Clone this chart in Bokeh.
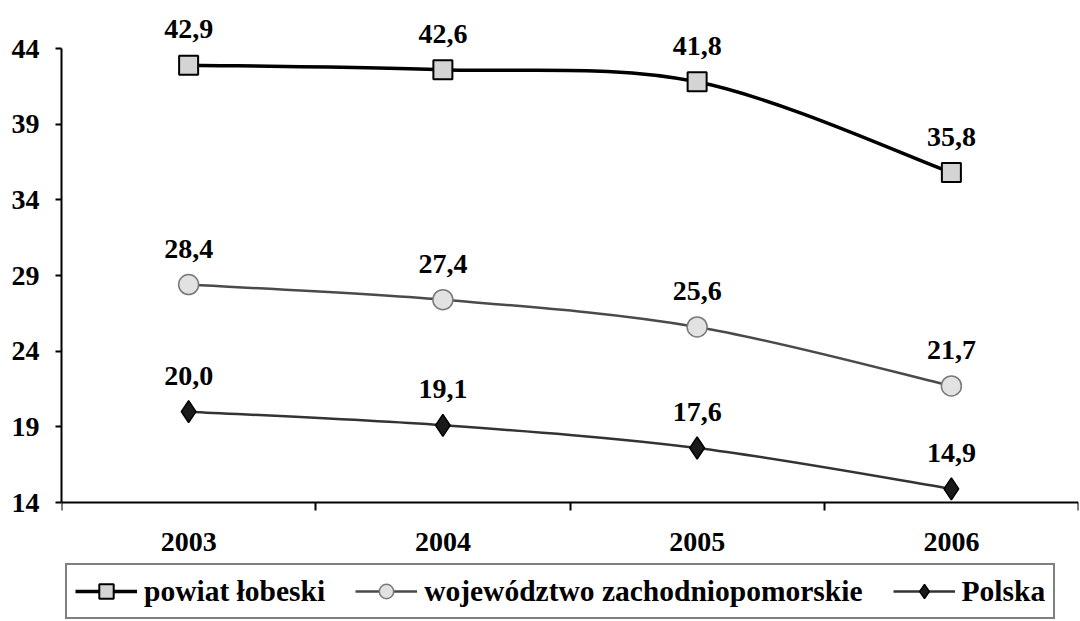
from bokeh.plotting import figure
from bokeh.models import (Range1d, FixedTicker, Legend, LegendItem, LabelSet,
                          ColumnDataSource)
from bokeh.embed import file_html
from bokeh.resources import INLINE

# ---- data ----
years = ["2003", "2004", "2005", "2006"]
powiat = [42.9, 42.6, 41.8, 35.8]
wojewodztwo = [28.4, 27.4, 25.6, 21.7]
polska = [20.0, 19.1, 17.6, 14.9]
y_ticks = [14, 19, 24, 29, 34, 39, 44]
names = ["powiat łobeski", "województwo zachodniopomorskie", "Polska"]

FONT = "Liberation Serif"
FS = "28px"
xs = list(range(len(years)))

# layout (pixels): frame spans from y=10 to the bottom of the picture; the
# value axis runs from pixel 48 (44) to 502 (14)
W, H = 1080, 621
TOP, AX_TOP, AX_BOT = 10, 48, 502
ppu = (AX_BOT - AX_TOP) / (y_ticks[-1] - y_ticks[0])
y_hi = y_ticks[-1] + (AX_TOP - TOP) / ppu
y_lo = y_ticks[0] - (H - AX_BOT) / ppu

p = figure(width=W, height=H, output_backend="svg", toolbar_location=None,
           x_range=Range1d(-0.5, len(years) - 0.5),
           y_range=Range1d(y_lo, y_hi),
           min_border_left=61, min_border_right=2, min_border_top=TOP,
           min_border_bottom=0)
p.outline_line_color = None
p.grid.visible = False
p.background_fill_color = "white"
p.border_fill_color = "white"

# axes
xax = p.xaxis[0]
xax.fixed_location = y_ticks[0]
xax.ticker = FixedTicker(ticks=xs, minor_ticks=[i - 0.5 for i in range(len(years) + 1)])
xax.major_label_overrides = {i: y for i, y in enumerate(years)}
xax.major_tick_out = 0
xax.major_tick_in = 0
xax.minor_tick_out = 8
xax.minor_tick_in = 0
xax.minor_tick_line_width = 2
xax.minor_tick_line_color = "black"
xax.axis_line_width = 2
xax.axis_line_color = "black"
xax.major_label_standoff = 22
xax.major_label_text_font = FONT
xax.major_label_text_font_style = "bold"
xax.major_label_text_font_size = FS
xax.major_label_text_color = "black"

yax = p.yaxis[0]
yax.ticker = FixedTicker(ticks=y_ticks, minor_ticks=[])
yax.bounds = (y_ticks[0], y_ticks[-1])
yax.major_tick_out = 6
yax.major_tick_in = 0
yax.major_tick_line_width = 2
yax.major_tick_line_color = "black"
yax.axis_line_width = 2
yax.axis_line_color = "black"
yax.major_label_standoff = 16
yax.major_label_text_font = FONT
yax.major_label_text_font_style = "bold"
yax.major_label_text_font_size = FS
yax.major_label_text_color = "black"


def bezier_source(vals):
    n = len(vals)
    d = dict(x0=[], y0=[], x1=[], y1=[], cx0=[], cy0=[], cx1=[], cy1=[])
    for i in range(n - 1):
        im = max(i - 1, 0)
        ip = min(i + 2, n - 1)
        d["x0"].append(xs[i]); d["y0"].append(vals[i])
        d["x1"].append(xs[i + 1]); d["y1"].append(vals[i + 1])
        d["cx0"].append(xs[i] + (xs[i + 1] - xs[im]) / 6)
        d["cy0"].append(vals[i] + (vals[i + 1] - vals[im]) / 6)
        d["cx1"].append(xs[i + 1] - (xs[ip] - xs[i]) / 6)
        d["cy1"].append(vals[i + 1] - (vals[ip] - vals[i]) / 6)
    return ColumnDataSource(d)


styles = [
    dict(vals=powiat, color="#000000", lw=3.5, marker="square", size=19,
         fill="#d4d4d4", mline="#000000", mlw=2),
    dict(vals=wojewodztwo, color="#4a4a4a", lw=2.5, marker="circle", size=20,
         fill="#e2e2e2", mline="#7a7a7a", mlw=1.5),
    dict(vals=polska, color="#333333", lw=2.5, marker="diamond", size=22,
         fill="#1a1a1a", mline="#000000", mlw=1.5),
]

items = []
for name, st in zip(names, styles):
    ln = p.bezier(x0="x0", y0="y0", x1="x1", y1="y1", cx0="cx0", cy0="cy0",
                  cx1="cx1", cy1="cy1", source=bezier_source(st["vals"]),
                  line_color=st["color"], line_width=st["lw"])
    mk = p.scatter(x=xs, y=st["vals"], marker=st["marker"], size=st["size"],
                   fill_color=st["fill"], line_color=st["mline"],
                   line_width=st["mlw"])
    items.append(LegendItem(label=name, renderers=[ln, mk]))

    src = ColumnDataSource(dict(x=xs, y=st["vals"],
                                t=[f"{v:.1f}".replace(".", ",") for v in st["vals"]]))
    p.add_layout(LabelSet(x="x", y="y", text="t", source=src,
                          text_align="center", text_baseline="bottom",
                          y_offset=27, text_font=FONT, text_font_style="bold",
                          text_font_size=FS, text_color="black"))

legend = Legend(items=items, orientation="horizontal", location=(4, 2),
                border_line_color="black", border_line_width=2,
                background_fill_color="white", background_fill_alpha=1,
                label_text_font=FONT, label_text_font_style="bold",
                label_text_font_size="29.5px", label_text_color="black",
                glyph_width=62, glyph_height=36, spacing=30, padding=8,
                margin=0, label_standoff=7)
p.add_layout(legend, "center")

open("out.html", "w").write(file_html(p, INLINE))
